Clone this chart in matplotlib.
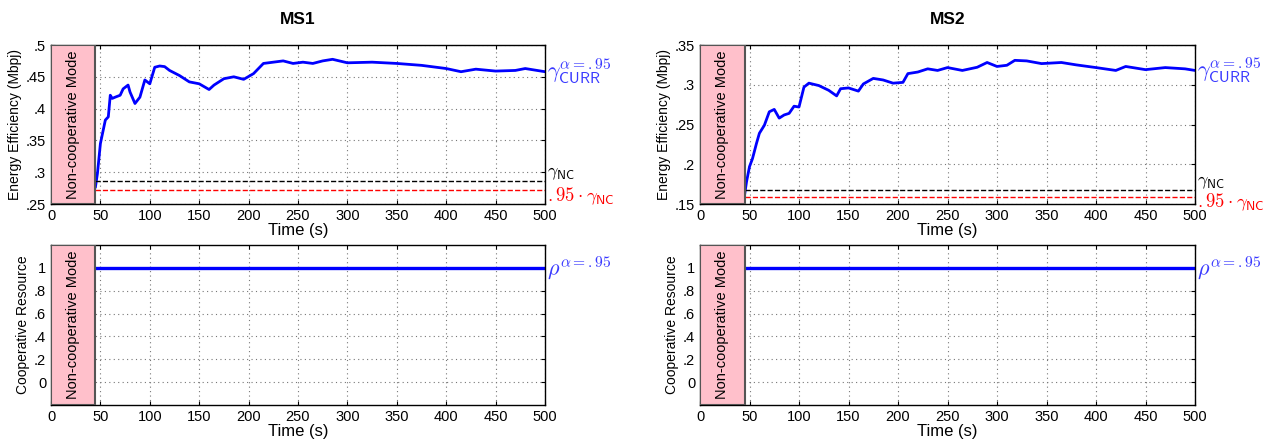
import numpy as np
import matplotlib
matplotlib.use('Agg')
import matplotlib.pyplot as plt
from matplotlib.patches import Rectangle

plt.rcParams['font.family'] = ['Liberation Sans', 'DejaVu Sans']
plt.rcParams['mathtext.fontset'] = 'cm'

# MS1 energy efficiency
t1 = [45, 47, 50, 55, 58, 60, 62, 65, 70, 73, 78, 80, 85, 90, 95, 100, 105, 110, 115, 120,
      130, 140, 150, 160, 165, 175, 185, 195, 205, 215, 225, 235, 245, 255, 265, 275, 285,
      300, 325, 350, 375, 400, 415, 430, 450, 470, 480, 500]
ee1 = [0.277, 0.298, 0.345, 0.382, 0.387, 0.421, 0.416, 0.418, 0.421, 0.431, 0.437, 0.426,
       0.408, 0.418, 0.445, 0.439, 0.465, 0.467, 0.466, 0.460, 0.452, 0.442, 0.439, 0.430,
       0.437, 0.447, 0.450, 0.446, 0.455, 0.471, 0.473, 0.475, 0.471, 0.473, 0.471, 0.475,
       0.4775, 0.472, 0.473, 0.471, 0.468, 0.463, 0.458, 0.462, 0.459, 0.460, 0.463, 0.458]
gnc1 = 0.286

# MS2 energy efficiency
t2 = [45, 47, 50, 53, 57, 60, 63, 65, 70, 75, 80, 85, 90, 95, 100, 105, 110, 120, 130, 138,
      142, 150, 160, 165, 175, 185, 195, 205, 210, 220, 230, 240, 250, 265, 280, 290, 300,
      310, 318, 330, 345, 365, 380, 400, 420, 430, 450, 470, 490, 500]
ee2 = [0.161, 0.178, 0.197, 0.207, 0.226, 0.239, 0.245, 0.249, 0.266, 0.269, 0.258, 0.262,
       0.264, 0.273, 0.272, 0.297, 0.302, 0.299, 0.293, 0.286, 0.295, 0.296, 0.292, 0.301,
       0.308, 0.306, 0.302, 0.303, 0.314, 0.316, 0.320, 0.318, 0.3216, 0.318, 0.322, 0.328,
       0.323, 0.3245, 0.3307, 0.330, 0.3266, 0.328, 0.325, 0.3216, 0.318, 0.323, 0.319,
       0.3216, 0.320, 0.318]
gnc2 = 0.1675

# cooperative resource
t_rho = [45, 500]
rho = [1, 1]

nc_end = 45
xticks = [0, 50, 100, 150, 200, 250, 300, 350, 400, 450, 500]

fig = plt.figure(figsize=(12.81, 4.41), dpi=100)
ax_pos = {
    'tl': [51/1281, 1-204/441, 494/1281, 159/441],
    'bl': [51/1281, 1-405/441, 494/1281, 160/441],
    'tr': [700/1281, 1-204/441, 495/1281, 159/441],
    'br': [700/1281, 1-405/441, 495/1281, 160/441],
}

blue_txt = '#3a3aff'


def base(ax, ylim, yticks, ylabels, ylab):
    ax.set_xlim(0, 500)
    ax.set_ylim(*ylim)
    ax.set_xticks(xticks)
    ax.set_yticks(yticks)
    ax.set_yticklabels(ylabels)
    ax.tick_params(direction='in', top=True, right=True, labelsize=10.5, length=3)
    ax.grid(True, linestyle=(0, (1, 3)), color='#777777', linewidth=0.8)
    ax.set_xlabel('Time (s)', fontsize=12, labelpad=0)
    ax.set_ylabel(ylab, fontsize=10, labelpad=3)
    for s in ax.spines.values():
        s.set_linewidth(1.0)
    rect = Rectangle((0, ylim[0]), nc_end, ylim[1] - ylim[0], facecolor='#ffc0cb',
                     edgecolor='#555555', linewidth=1.5, zorder=3)
    ax.add_patch(rect)
    ax.text(nc_end / 2, (ylim[0] + ylim[1]) / 2, 'Non-cooperative Mode', rotation=90,
            ha='center', va='center', fontsize=10.5, zorder=4)


def top(ax, t, ee, gnc, ylim, yticks, ylabels, title):
    base(ax, ylim, yticks, ylabels, 'Energy Efficiency (Mbpj)')
    ax.plot(t, ee, color='blue', linewidth=2, zorder=2)
    ax.plot([nc_end, 500], [gnc, gnc], '--', color='black', linewidth=1, zorder=2)
    ax.plot([nc_end, 500], [0.95 * gnc, 0.95 * gnc], '--', color='red', linewidth=1, zorder=2)
    tr = ax.get_yaxis_transform()
    span = ylim[1] - ylim[0]
    ax.text(1.005, ee[-1], r'$\gamma_{\mathsf{CURR}}^{\alpha=.95}$', transform=tr,
            color=blue_txt, fontsize=16, va='center', ha='left')
    ax.text(1.005, gnc + 0.045 * span, r'$\gamma_{\mathsf{NC}}$', transform=tr, color='black',
            fontsize=13, va='center', ha='left')
    ax.text(1.004, 0.95 * gnc - 0.035 * span, r'$.95\cdot\gamma_{\mathsf{NC}}$', transform=tr,
            color='red', fontsize=13.5, va='center', ha='left')
    ax.set_title(title, fontsize=12.5, fontweight='bold', pad=15)


def bottom(ax):
    base(ax, (-0.2, 1.2), [0, 0.2, 0.4, 0.6, 0.8, 1], ['0', '.2', '.4', '.6', '.8', '1'],
         'Cooperative Resource')
    ax.plot(t_rho, rho, color='blue', linewidth=2.4, zorder=2)
    ax.text(1.005, rho[-1], r'$\rho^{\alpha=.95}$', transform=ax.get_yaxis_transform(),
            color=blue_txt, fontsize=16, va='center', ha='left')


ax1 = fig.add_axes(ax_pos['tl'])
top(ax1, t1, ee1, gnc1, (0.25, 0.5), [0.25, 0.3, 0.35, 0.4, 0.45, 0.5],
    ['.25', '.3', '.35', '.4', '.45', '.5'], 'MS1')
ax2 = fig.add_axes(ax_pos['tr'])
top(ax2, t2, ee2, gnc2, (0.15, 0.35), [0.15, 0.2, 0.25, 0.3, 0.35],
    ['.15', '.2', '.25', '.3', '.35'], 'MS2')
ax3 = fig.add_axes(ax_pos['bl'])
bottom(ax3)
ax4 = fig.add_axes(ax_pos['br'])
bottom(ax4)

fig.savefig('out.png', dpi=100)
